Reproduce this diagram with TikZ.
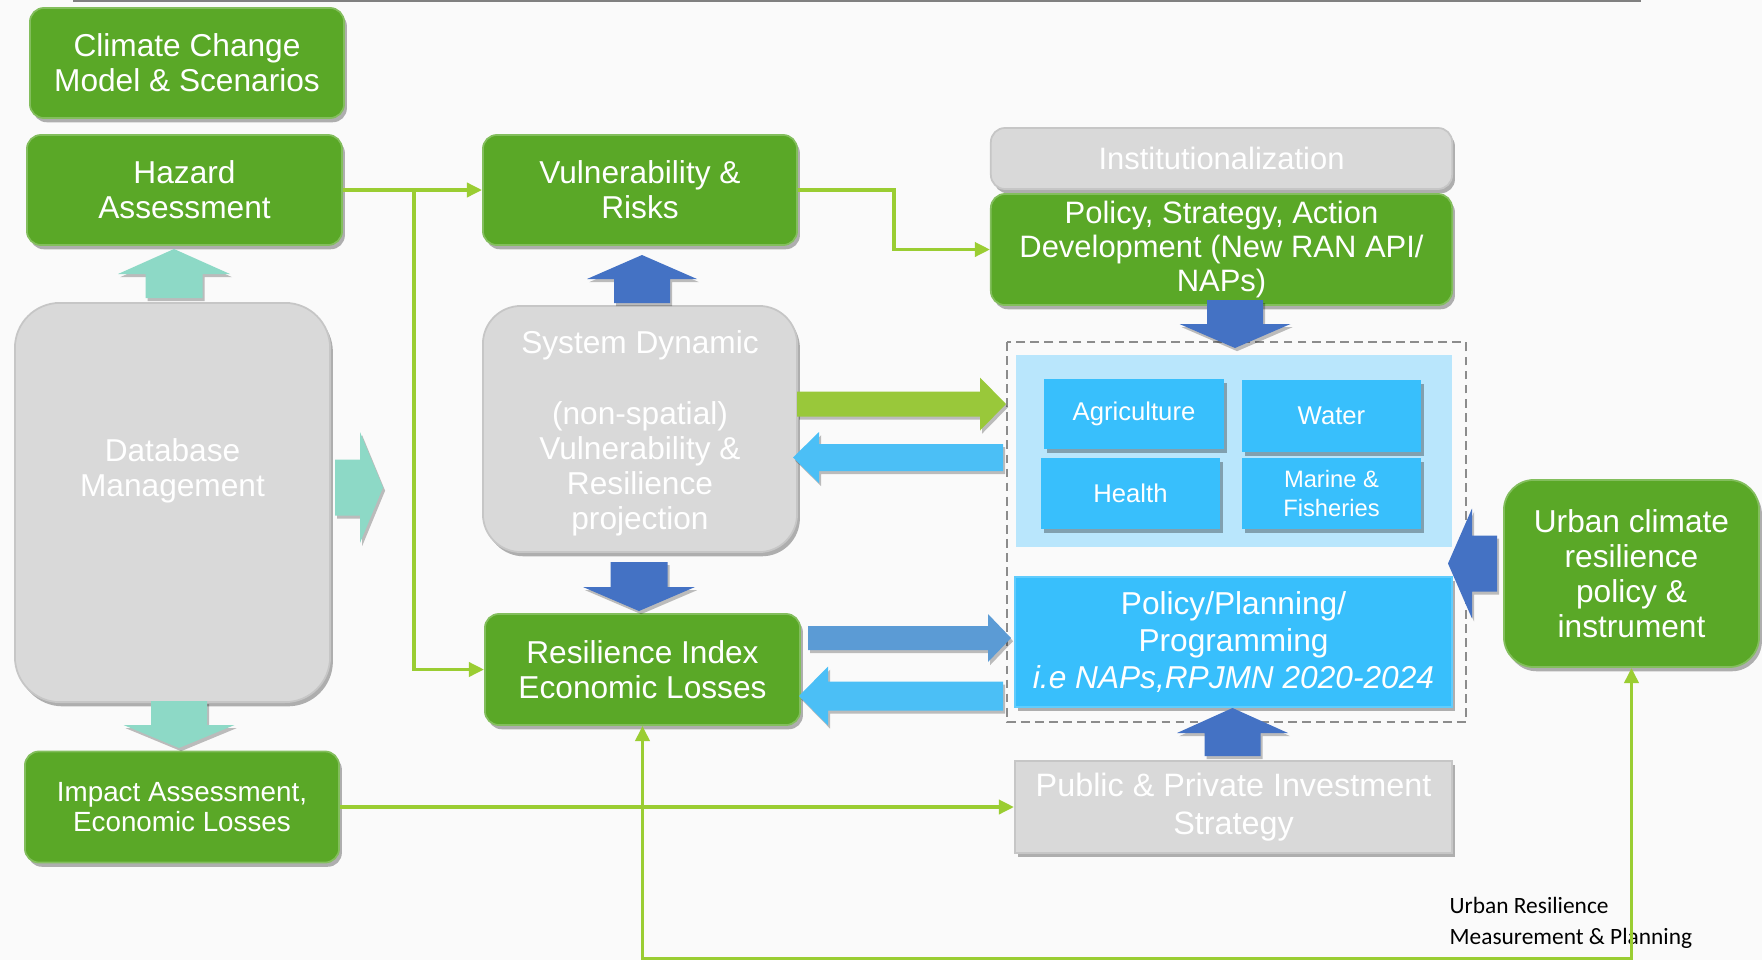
\documentclass[tikz,border=0pt]{standalone}
\usepackage{fontspec}
\setmainfont{Liberation Sans}
\newfontfamily\notefont{Carlito}
\usetikzlibrary{arrows.meta,shadows}

\definecolor{boxgreen}{HTML}{5AA827}
\definecolor{boxgray}{HTML}{D9D9D9}
\definecolor{linkgreen}{HTML}{9ACD32}
\definecolor{tealarr}{HTML}{8DD9C6}
\definecolor{darkblue}{HTML}{4472C4}
\definecolor{midblue}{HTML}{5B9BD5}
\definecolor{skyblue}{HTML}{4BBFF6}
\definecolor{sectorblue}{HTML}{38BFFC}
\definecolor{panelblue}{HTML}{B9E6FC}
\definecolor{arrgreen}{HTML}{99C83A}

% fat arrows: style, x, base, head base, tip, shaft half width, head half width
\newcommand{\vfat}[7]{\fill[#1] ({#2-#6},#3) -- ({#2-#6},#4) -- ({#2-#7},#4) -- (#2,#5) -- ({#2+#7},#4) -- ({#2+#6},#4) -- ({#2+#6},#3) -- cycle;}
\newcommand{\hfat}[7]{\fill[#1] (#3,{#2-#6}) -- (#4,{#2-#6}) -- (#4,{#2-#7}) -- (#5,#2) -- (#4,{#2+#7}) -- (#4,{#2+#6}) -- (#3,{#2+#6}) -- cycle;}

\tikzset{
  shadowed/.style={drop shadow={shadow xshift=0.8pt,shadow yshift=-1.2pt,opacity=0.3,fill=black}},
  greenbox/.style={shadowed,draw=boxgreen!75!white,line width=0.5pt,fill=boxgreen,rounded corners=4pt,
    text=white,align=center,inner sep=0pt,font=\fontsize{9}{10}\selectfont},
  graybox/.style={shadowed,draw=gray!45,line width=0.5pt,fill=boxgray,rounded corners=4pt,
    text=white,align=center,inner sep=0pt,font=\fontsize{9}{10}\selectfont},
  sector/.style={shadowed,fill=sectorblue,text=white,align=center,inner sep=0pt,
    font=\fontsize{7.3}{8.5}\selectfont},
  link/.style={draw=linkgreen,line width=1pt,-{Triangle[length=4.3pt,width=4pt]}},
  fatarrow/.style={drop shadow={shadow xshift=0.6pt,shadow yshift=-0.9pt,opacity=0.25,fill=black}},
  note/.style={align=left,inner sep=0pt,font=\notefont\fontsize{6.65}{8.8}\selectfont}
}

\begin{document}
\begin{tikzpicture}[x=0.01cm,y=-0.01cm]
\path[use as bounding box,fill=white!98!black] (0,0) rectangle (1762,960);
\draw[gray,line width=0.6pt] (73,1) -- (1641,1);

% left column
\node[greenbox,minimum width=3.14cm,minimum height=1.10cm] (climate) at (187,63) {Climate Change\\Model \& Scenarios};
\node[greenbox,minimum width=3.15cm,minimum height=1.10cm] (hazard) at (184.5,190) {Hazard\\Assessment};
\node[graybox,rounded corners=0.45cm,minimum width=3.15cm,minimum height=3.99cm] (db) at (172.5,502.5) {Database\\Management\\\mbox{}\\\mbox{}};
\node[greenbox,minimum width=3.14cm,minimum height=1.11cm,font=\fontsize{7.9}{8.3}\selectfont] (impact) at (182,807) {Impact Assessment,\\Economic Losses};

% middle column
\node[graybox,rounded corners=0.38cm,minimum width=3.14cm,minimum height=2.46cm] (sys) at (640,429) {\rule{0pt}{9.2pt}System Dynamic\\\mbox{}\\(non-spatial)\\Vulnerability \&\\Resilience\\projection};
\node[greenbox,minimum width=3.14cm,minimum height=1.10cm] (vul) at (640,190) {Vulnerability \&\\Risks};
\node[greenbox,minimum width=3.15cm,minimum height=1.11cm] (resil) at (642.5,669.5) {Resilience Index\\Economic Losses};

% right column
\node[graybox,minimum width=4.61cm,minimum height=0.61cm,font=\fontsize{8.8}{10}\selectfont] (inst) at (1221.5,158.5) {Institutionalization};
\node[greenbox,minimum width=4.61cm,minimum height=1.11cm,font=\fontsize{8.8}{9.7}\selectfont] (policy) at (1221.5,249.5) {Policy, Strategy, Action\\Development (New RAN API/\\NAPs)};
\draw[gray!90,line width=0.8pt,dash pattern=on 2.5pt off 1.5pt] (1007,342) rectangle (1466,722);
\fill[panelblue] (1016,355) rectangle (1452,547);
\node[sector,minimum width=1.80cm,minimum height=0.70cm] (agri) at (1134,414) {Agriculture};
\node[sector,minimum width=1.79cm,minimum height=0.72cm] (water) at (1331.5,416) {Water};
\node[sector,minimum width=1.79cm,minimum height=0.71cm] (health) at (1130.5,493.5) {Health};
\node[sector,minimum width=1.79cm,minimum height=0.71cm,font=\fontsize{6.75}{8}\selectfont] (marine) at (1331.5,493.5) {Marine \&\\Fisheries};
\node[sector,draw=sectorblue!80!white,minimum width=4.37cm,minimum height=1.30cm,font=\fontsize{9}{10.5}\selectfont] (plan) at (1233.5,642) {Policy/Planning/\\Programming\\\textit{i.e NAPs,RPJMN 2020-2024}};
\node[graybox,rounded corners=0pt,minimum width=4.37cm,minimum height=0.92cm,font=\fontsize{9.2}{10.8}\selectfont] (invest) at (1233.5,807) {Public \& Private Investment\\Strategy};
\node[greenbox,rounded corners=0.3cm,minimum width=2.55cm,minimum height=1.87cm] (urban) at (1631.5,573.5) {Urban climate\\resilience\\policy \&\\instrument};
\node[note,anchor=west] (caption) at (1449,923) {Urban Resilience\\Measurement \& Planning};

% thin links
\draw[link] (hazard.east) -- (vul.west);
\draw[link] (hazard.east) -- ++(71,0) |- (resil.west);
\draw[link] (vul.east) -- ++(96,0) |- (policy.west);
\draw[link] (impact.east) -- (invest.west);
\draw[link,{Triangle[length=4.3pt,width=4pt]}-{Triangle[length=4.3pt,width=4pt]}] (resil.south) -- ++(0,233) -| (urban.south);

% fat arrows
\vfat{tealarr,fatarrow}{174}{298}{274}{249}{28.5}{56}
\vfat{darkblue,fatarrow}{642}{303}{279}{255}{28}{55}
\hfat{tealarr,fatarrow}{487.5}{335}{360}{383}{28}{55.5}
\vfat{tealarr,fatarrow}{179}{701}{725}{748}{28}{55.5}
\vfat{darkblue,fatarrow}{639}{562}{587}{611}{28.5}{56}
\vfat{darkblue,fatarrow}{1235}{300}{324}{348}{28}{55.5}
\hfat{arrgreen,fatarrow}{404}{797}{980}{1006}{12.5}{26.5}
\hfat{skyblue,fatarrow}{457.5}{1003}{819}{793}{13.5}{25.5}
\hfat{midblue,fatarrow}{638}{808}{988}{1011}{12}{24}
\hfat{skyblue,fatarrow}{696}{1003}{828}{799}{14.5}{29.5}
\vfat{darkblue,fatarrow}{1232.5}{756}{733}{708}{28}{55.5}
\hfat{darkblue,fatarrow}{563.5}{1497}{1472}{1448}{28}{55}
\end{tikzpicture}
\end{document}
